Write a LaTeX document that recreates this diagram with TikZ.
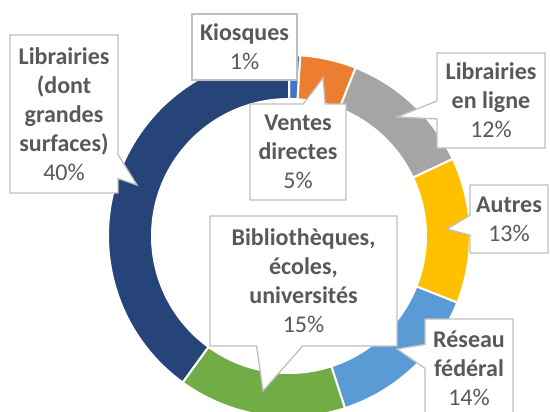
\documentclass[tikz,border=0pt]{standalone}
\usepackage{fontspec}
\setmainfont{Carlito}
\usetikzlibrary{shapes.callouts,calc}

\definecolor{kiosqblue}{HTML}{4472C4}
\definecolor{ventorange}{HTML}{ED7D31}
\definecolor{lignegray}{HTML}{A5A5A5}
\definecolor{autryellow}{HTML}{FFC000}
\definecolor{resblue}{HTML}{5B9BD5}
\definecolor{biblgreen}{HTML}{70AD47}
\definecolor{libnavy}{HTML}{264478}
\definecolor{labelgray}{HTML}{595959}
\definecolor{boxgray}{HTML}{BFBFBF}

\begin{document}
\begin{tikzpicture}[x=1pt,y=-1pt,
  seg/.style={draw=white, line width=2},
  lbl/.style={fill=white, draw=boxgray, line width=1.3, text=labelgray,
    align=center, inner sep=0pt, font=\fontsize{24}{29}\selectfont},
  callbox/.style={lbl, rectangle callout}]
\useasboundingbox (0,0) rectangle (550,412);
\coordinate (ctr) at (289,236);

% ring, clockwise from the top
\foreach \a/\b/\c in {-90/-86.4/kiosqblue, -86.4/-68.4/ventorange,
  -68.4/-25.2/lignegray, -25.2/21.6/autryellow, 21.6/72/resblue,
  72/126/biblgreen, 126/270/libnavy}
  \filldraw[seg, fill=\c] ($(ctr)+(\a:181)$) arc[start angle=\a, end angle=\b, radius=181]
    -- ($(ctr)+(\b:137)$) arc[start angle=\b, end angle=\a, radius=137] -- cycle;

% pointer tips
\coordinate (libtip) at (137,185);
\coordinate (ventip) at (323,78);
\coordinate (lignetip) at (397,117);
\coordinate (autrtip) at (447,229);
\coordinate (restip) at (397,349);
\coordinate (bibtip) at (263,391);

% labels
\node[callbox, callout absolute pointer={(libtip)}, callout pointer width=24,
  minimum width=108, minimum height=158] (lib) at (64,114)
  {\textbf{Librairies}\\\textbf{(dont}\\\textbf{grandes}\\\textbf{surfaces)}\\40\%};
\node[lbl, rectangle, minimum width=105, minimum height=66] (kiosq) at (244.5,47)
  {\textbf{Kiosques}\\1\%};
\node[callbox, callout absolute pointer={(ventip)}, callout pointer width=22,
  minimum width=96, minimum height=96] (ventes) at (298,152)
  {\textbf{Ventes}\\\textbf{directes}\\5\%};
\node[callbox, callout absolute pointer={(lignetip)}, callout pointer width=18,
  minimum width=108, minimum height=95] (enligne) at (491,100.5)
  {\textbf{Librairies}\\\textbf{en ligne}\\12\%};
\node[callbox, callout absolute pointer={(autrtip)}, callout pointer width=20,
  minimum width=78, minimum height=68] (autres) at (509,219)
  {\textbf{Autres}\\13\%};
\node[callbox, callout absolute pointer={(restip)}, callout pointer width=24,
  minimum width=88, minimum height=98] (reseau) at (469,368)
  {\textbf{Réseau}\\\textbf{fédéral}\\14\%};
\node[callbox, callout absolute pointer={(bibtip)}, callout pointer width=46,
  minimum width=187, minimum height=130] (biblio) at (303.5,281)
  {\textbf{Bibliothèques,}\\\textbf{écoles,}\\\textbf{universités}\\15\%};
\end{tikzpicture}
\end{document}
